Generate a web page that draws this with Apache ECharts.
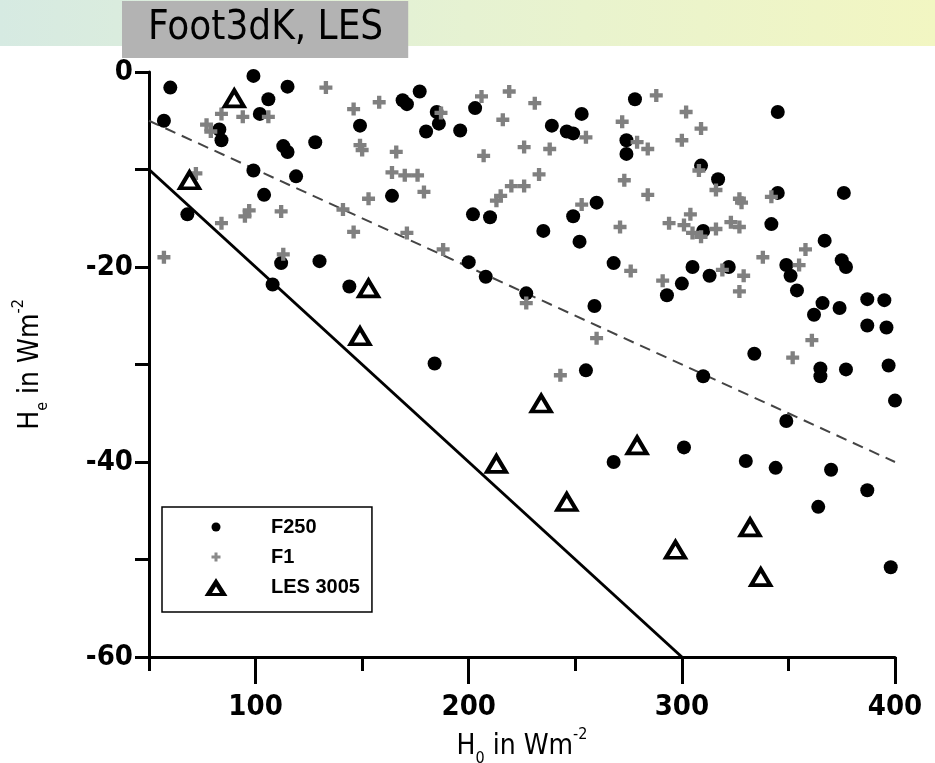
<!DOCTYPE html>
<html>
<head>
<meta charset="utf-8">
<script src="https://cdn.jsdelivr.net/npm/echarts@6/dist/echarts.min.js"></script>
<style>
	html, body { margin: 0; padding: 0; background: #fff; }
	#chart { width: 935px; height: 763px; }
</style>
</head>
<body>
<div id="chart"></div>
<script>
// F250 (black dots)
const f250X = [99, 60, 115, 106, 102, 57, 83, 84, 113, 115, 128, 99, 119, 104, 68, 130, 112, 108,
	177, 169, 171, 203, 185, 186, 180, 196, 149, 164, 202, 210, 200, 144, 184, 208, 227,
	278, 253, 239, 246, 249, 274, 274, 309, 317, 260, 249, 235, 252, 310, 268,
	345, 345, 376, 342, 367, 375, 377, 305, 300, 293, 313, 259, 255, 310, 301,
	322, 349, 351, 354, 366, 374, 362, 387, 395, 387, 396, 334, 365, 365, 377, 397, 400, 349,
	268, 330, 344, 370, 387, 364, 398];
const f250Y = [-0.4, -1.6, -1.5, -2.8, -4.3, -5.0, -5.9, -7.0, -7.6, -8.2, -7.2, -10.1, -10.7, -12.6, -14.6, -19.4, -19.6, -21.8,
	-2.0, -2.9, -3.3, -3.7, -4.1, -5.3, -6.1, -6.0, -5.5, -12.7, -14.6, -14.9, -19.5, -22.0, -29.9, -21.0, -22.7,
	-2.8, -4.3, -5.5, -6.1, -6.3, -7.0, -8.4, -9.6, -11.0, -13.4, -14.8, -16.3, -17.4, -16.3, -19.6,
	-4.1, -12.4, -12.4, -15.6, -17.3, -19.3, -20.0, -20.0, -21.7, -22.9, -20.9, -24.0, -30.6, -31.2, -38.5,
	-20.0, -19.8, -20.9, -22.4, -23.7, -24.2, -24.9, -23.3, -23.4, -26.0, -26.2, -28.9, -30.4, -31.2, -30.5, -30.1, -33.7, -35.8,
	-40.0, -39.9, -40.6, -40.8, -42.9, -44.6, -50.8];

// F1 (grey crosses)
const f1X = [133, 84, 94, 106, 77, 79, 72, 97, 95, 112, 84, 57, 113,
	158, 146, 187, 206, 219, 216, 149, 150, 166, 226, 207, 164, 170, 176, 179, 153, 141, 220, 226, 215, 213, 146, 171, 188,
	231, 288, 302, 272, 309, 255, 300, 279, 284, 238, 233, 308, 316, 273, 284, 253, 304, 294, 301, 305, 309, 316, 271,
	327, 328, 342, 323, 327, 358, 338, 355, 319, 329, 327, 361, 352,
	276, 291, 227, 260, 243];
const f1Y = [-1.6, -4.3, -4.6, -4.6, -5.4, -6.1, -10.4, -14.2, -14.8, -14.3, -15.5, -19.0, -18.7,
	-3.1, -3.8, -4.2, -2.5, -2.0, -4.9, -7.5, -8.0, -8.2, -7.7, -8.6, -10.3, -10.6, -10.6, -12.3, -13.0, -14.1, -11.7, -11.7, -12.7, -13.2, -16.4, -16.5, -18.2,
	-3.2, -2.4, -4.1, -5.1, -5.8, -6.7, -7.0, -7.2, -7.9, -7.9, -10.5, -10.1, -12.1, -11.1, -12.6, -13.6, -14.6, -15.5, -15.7, -16.5, -16.9, -16.1, -15.9,
	-13.0, -13.4, -12.8, -15.4, -15.9, -18.2, -19.0, -19.8, -20.3, -20.9, -22.5, -27.5, -29.3,
	-20.4, -21.4, -23.7, -27.3, -31.1];

// LES 3005 (open triangles)
const lesX = [90, 69, 153, 149, 234, 213, 246, 279, 297, 332, 337];
const lesY = [-2.7, -11.1, -22.2, -27.1, -34.0, -40.2, -44.1, -38.3, -49.0, -46.7, -51.8];

// reference lines He = -H0/5 (solid) and He = -H0/10 (dashed)
const solidX = [50, 300];
const solidY = [-10, -60];
const dashX = [50, 400];
const dashY = [-5, -40];

const xMajor = [100, 200, 300, 400];
const xMinor = [50, 150, 250, 350];

const legendNames = ["F250", "F1", "LES 3005"];

const narrow = '"Liberation Sans Narrow", "Arial Narrow", "DejaVu Sans Condensed", sans-serif';
const arial = '"Liberation Sans", Arial, sans-serif';

function pairs(xs, ys) {
	return xs.map((x, i) => [x, ys[i]]);
}

const crossPath = "path://M4,0h4v4h4v4h-4v4h-4v-4h-4v-4h4z";
// legend icons, padded to 80x18 so every item keeps its own size
const iconDot = "path://M0,0M80,18M34.5,9A4.5,4.5,0,1,1,25.5,9A4.5,4.5,0,1,1,34.5,9Z";
const iconCross = "path://M0,0M80,18M28.5,4.5h3v3h3v3h-3v3h-3v-3h-3v-3h3z";
const iconTri = "path://M0,0M80,18M30,0L41.5,18L18.5,18ZM30,8.5L26,15L34,15Z";

const nameRich = {
	n: { fontSize: 28, fontFamily: narrow, color: "#000" },
	sub: { fontSize: 16, fontFamily: narrow, color: "#000", verticalAlign: "bottom", padding: [0, 0, -6, 0] },
	sup: { fontSize: 16, fontFamily: narrow, color: "#000", verticalAlign: "top", padding: [-6, 0, 0, 0] },
};

const gridBox = { left: 149, right: 40, top: 72, bottom: 106, outerBoundsMode: "none" };

const chart = echarts.init(document.getElementById("chart"));

const option = {
	animation: false,
	backgroundColor: "#fff",
	graphic: [
		{
			type: "rect",
			left: 0,
			top: 0,
			z: -10,
			shape: { width: 935, height: 46 },
			style: {
				fill: new echarts.graphic.LinearGradient(0, 0, 1, 0, [
					{ offset: 0, color: "#d6eae2" },
					{ offset: 0.5, color: "#e6f2d2" },
					{ offset: 1, color: "#f2f6c2" },
				]),
			},
		},
	],
	title: {
		text: "Foot3dK, LES",
		left: 122,
		top: 1,
		backgroundColor: "#b3b3b3",
		padding: [8, 25, 9, 26],
		textStyle: {
			fontFamily: narrow,
			fontWeight: "normal",
			fontSize: 40,
			color: "#000",
		},
	},
	legend: {
		orient: "vertical",
		left: 162,
		top: 507,
		padding: [10, 12, 15, 24],
		itemWidth: 80,
		itemHeight: 18,
		itemGap: 10,
		borderColor: "#000",
		borderWidth: 1.5,
		backgroundColor: "#fff",
		textStyle: { fontFamily: arial, fontWeight: "bold", fontSize: 20, color: "#000" },
		data: [
			{ name: legendNames[0], icon: iconDot, itemStyle: { color: "#000", borderWidth: 0 } },
			{ name: legendNames[1], icon: iconCross, itemStyle: { color: "#8a8a8a", borderWidth: 0 } },
			{ name: legendNames[2], icon: iconTri, itemStyle: { color: "#000", borderWidth: 0 } },
		],
	},
	// two grids on the same box: the second one only carries the short x ticks
	grid: [Object.assign({}, gridBox), Object.assign({}, gridBox)],
	xAxis: [
		{
			gridIndex: 0,
			type: "value",
			min: 50,
			max: 400,
			position: "bottom",
			name: "{n|H}{sub|0}{n| in Wm}{sup|-2}",
			nameLocation: "middle",
			nameGap: 76,
			nameTextStyle: { rich: nameRich },
			axisLine: { onZero: false, lineStyle: { color: "#000", width: 3 } },
			axisTick: { show: true, customValues: xMajor, length: 27, lineStyle: { color: "#000", width: 3 } },
			axisLabel: {
				customValues: xMajor,
				margin: 36,
				fontFamily: narrow,
				fontWeight: "bold",
				fontSize: 29,
				color: "#000",
			},
			splitLine: { show: false },
		},
		{
			gridIndex: 1,
			type: "value",
			min: 50,
			max: 400,
			position: "bottom",
			axisLine: { show: false, onZero: false },
			axisTick: { show: true, customValues: xMinor, length: 14, lineStyle: { color: "#000", width: 3 } },
			axisLabel: { show: false },
			splitLine: { show: false },
		},
	],
	yAxis: [
		{
			gridIndex: 0,
			type: "value",
			min: -60,
			max: 0,
			interval: 20,
			name: "{n|H}{sub|e}{n| in Wm}{sup|-2}",
			nameLocation: "middle",
			nameGap: 104,
			nameTextStyle: { rich: nameRich },
			axisLine: { show: true, onZero: false, lineStyle: { color: "#000", width: 3 } },
			axisTick: { show: true, length: 14, lineStyle: { color: "#000", width: 3 } },
			minorTick: { show: true, splitNumber: 2, length: 14, lineStyle: { color: "#000", width: 3 } },
			axisLabel: {
				margin: 16,
				fontFamily: narrow,
				fontWeight: "bold",
				fontSize: 29,
				color: "#000",
			},
			splitLine: { show: false },
		},
		{
			gridIndex: 1,
			type: "value",
			min: -60,
			max: 0,
			show: false,
		},
	],
	series: [
		{
			name: "solid",
			type: "line",
			data: pairs(solidX, solidY),
			symbol: "none",
			lineStyle: { color: "#000", width: 3 },
			z: 1,
		},
		{
			name: "dashed",
			type: "line",
			data: pairs(dashX, dashY),
			symbol: "none",
			lineStyle: { color: "#444", width: 2, type: [11, 7] },
			z: 1,
		},
		{
			name: legendNames[0],
			type: "scatter",
			data: pairs(f250X, f250Y),
			symbol: "circle",
			symbolSize: 14,
			itemStyle: { color: "#000", opacity: 1 },
			z: 2,
		},
		{
			name: legendNames[1],
			type: "scatter",
			data: pairs(f1X, f1Y),
			symbol: crossPath,
			symbolSize: 13,
			itemStyle: { color: "#808080", opacity: 1 },
			z: 3,
		},
		{
			name: legendNames[2],
			type: "scatter",
			data: pairs(lesX, lesY),
			symbol: "triangle",
			symbolSize: [19, 16],
			itemStyle: { color: "#fff", borderColor: "#000", borderWidth: 4, opacity: 1 },
			z: 4,
		},
	],
};

chart.setOption(option);
</script>
</body>
</html>
